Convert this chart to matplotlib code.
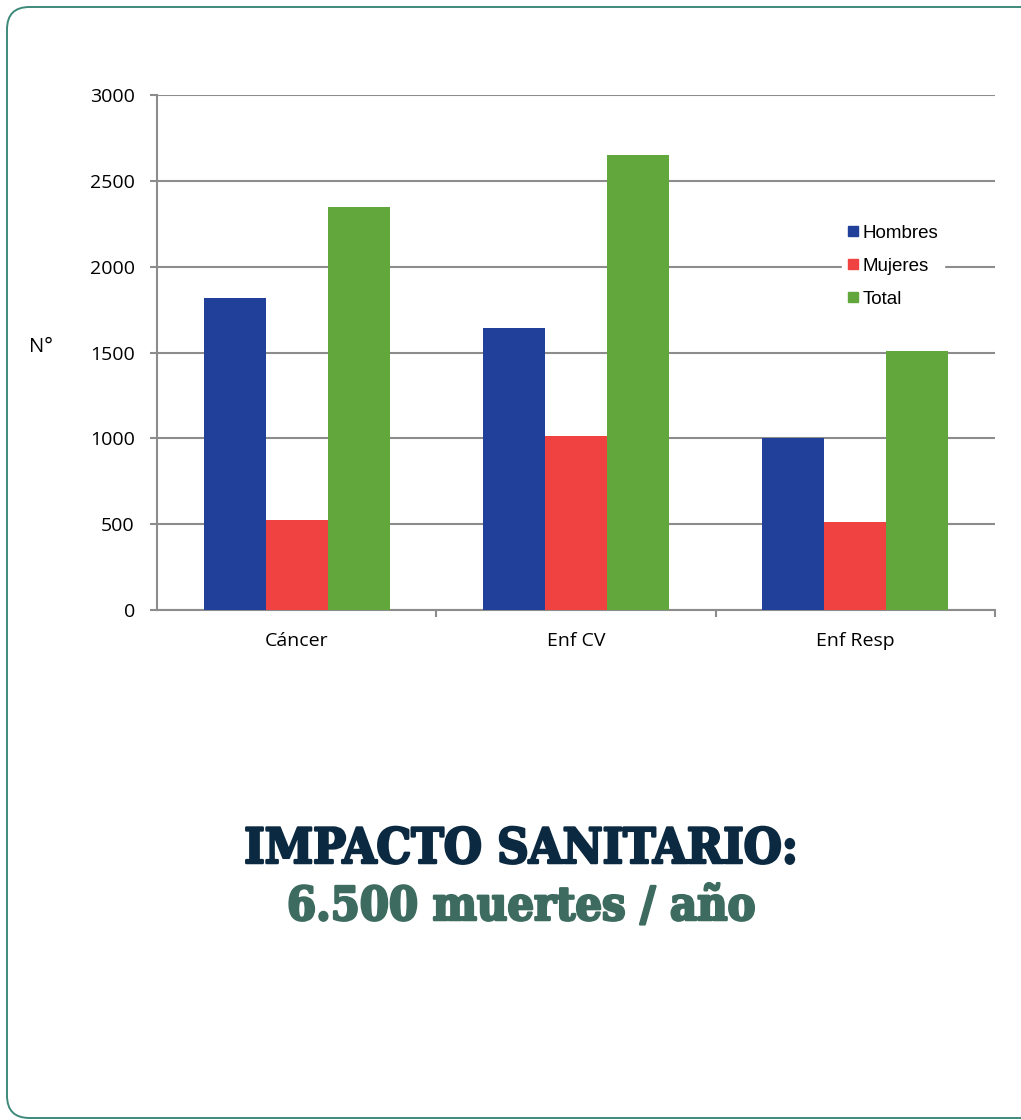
import matplotlib
matplotlib.use("Agg")
import matplotlib.pyplot as plt
import matplotlib.patheffects as pe
import numpy as np
from matplotlib.patches import FancyBboxPatch
from matplotlib.lines import Line2D

categories = ["Cáncer", "Enf CV", "Enf Resp"]
series_names = ["Hombres", "Mujeres", "Total"]
hombres = [1820, 1640, 1000]
mujeres = [525, 1015, 510]
total = [2350, 2650, 1510]
series_values = [hombres, mujeres, total]
colors = ["#21409a", "#ef4241", "#62a73b"]
y_ticks = [0, 500, 1000, 1500, 2000, 2500, 3000]

fig = plt.figure(figsize=(10.21, 11.20), dpi=100)

# rounded card outline
card = FancyBboxPatch((7 / 1021, 2 / 1120), 1.2, 1 - 7 / 1120 - 2 / 1120,
                      boxstyle="round,pad=0,rounding_size=0.022",
                      transform=fig.transFigure, facecolor="white",
                      edgecolor="#3d8a7a", linewidth=1.4, zorder=-1,
                      mutation_aspect=1021 / 1120)
fig.patches.append(card)

ax = fig.add_axes([157 / 1021, 1 - 610 / 1120, (995 - 157) / 1021, (610 - 95) / 1120])
ax.set_facecolor("none")
ax.set_zorder(2)

x = np.arange(len(categories))
width = 0.222
for i, (name, vals, c) in enumerate(zip(series_names, series_values, colors)):
    ax.bar(x + (i - 1) * width, vals, width, color=c, label=name, zorder=3)

ax.set_xlim(-0.5, len(categories) - 0.5)
ax.set_ylim(0, 3000)
ax.set_yticks(y_ticks)
ax.set_yticklabels([str(v) for v in y_ticks], fontfamily="Open Sans", fontsize=14)
ax.yaxis.grid(True, color="#8c8c8c", linewidth=1.5, zorder=0)
ax.set_axisbelow(True)

ax.set_xticks(x)
ax.set_xticklabels(categories, fontfamily="Open Sans", fontsize=14)
ax.tick_params(axis="x", which="major", length=0, pad=16)
ax.set_xticks([0.5, 1.5, 2.5], minor=True)
ax.tick_params(axis="x", which="minor", length=5, color="#8c8c8c", width=1.5, direction="out")
ax.tick_params(axis="y", length=5, color="#8c8c8c", width=1.5, direction="out", pad=11)

for s in ["top", "right"]:
    ax.spines[s].set_visible(False)
for s in ["left", "bottom"]:
    ax.spines[s].set_color("#8c8c8c")
    ax.spines[s].set_linewidth(1.5)

fig.text(41 / 1021, 1 - 347 / 1120, "N°", fontfamily="Open Sans", fontsize=14.5,
         ha="center", va="center")

handles = [Line2D([], [], marker="s", linestyle="none", markersize=7,
                  markerfacecolor=c, markeredgecolor=c) for c in colors]
leg = ax.legend(handles, series_names, loc="center left",
                bbox_to_anchor=((842 - 157) / (995 - 157), (610 - 266) / (610 - 95)),
                frameon=True, fancybox=False, framealpha=1, edgecolor="white",
                facecolor="white", prop={"family": "Liberation Sans", "size": 13.5},
                handlelength=0.55, handletextpad=0.25, labelspacing=0.85,
                borderpad=0.3, borderaxespad=0)
leg.set_zorder(5)

title_kw = dict(fontfamily="DejaVu Serif", fontweight="bold", fontstretch="condensed",
                ha="center", va="baseline")
fig.text(521 / 1021, 1 - 863 / 1120, "IMPACTO SANITARIO:", color="#0b2940", fontsize=35,
         path_effects=[pe.withStroke(linewidth=1.8, foreground="#0b2940")], **title_kw)
fig.text(521 / 1021, 1 - 920 / 1120, "6.500 muertes / año", color="#3e6b5f", fontsize=33.5,
         path_effects=[pe.withStroke(linewidth=1.8, foreground="#3e6b5f")], **title_kw)

fig.savefig("out.png", dpi=100)
